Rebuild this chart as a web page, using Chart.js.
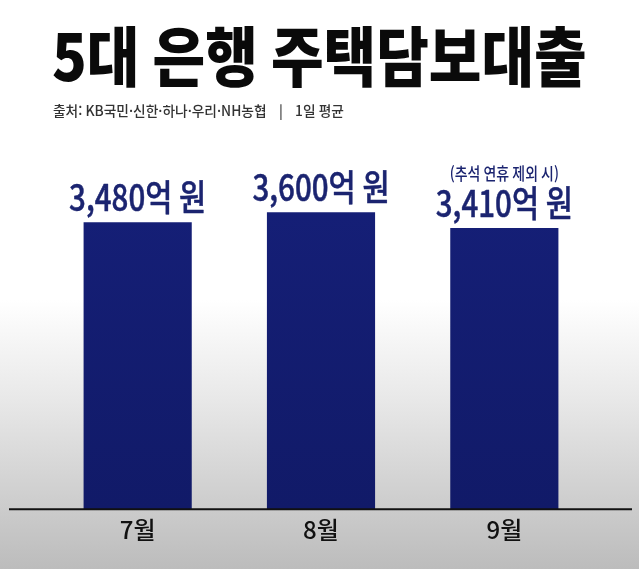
<!DOCTYPE html>
<html lang="ko">
<head>
<meta charset="utf-8">
<script src="https://cdn.jsdelivr.net/npm/chart.js@4/dist/chart.umd.min.js"></script>
<style>
  html, body { margin: 0; padding: 0; }
  body {
    width: 639px; height: 569px; overflow: hidden;
    background: linear-gradient(to bottom, #ffffff 0px, #ffffff 300px, #e8e8e8 400px, #bcbcbc 569px);
  }
  #wrap { position: relative; width: 639px; height: 569px; }
</style>
</head>
<body>
<div id="wrap"><canvas id="c" width="639" height="569"></canvas></div>
<script>
const categories = ['7월', '8월', '9월'];
const values = [3480, 3600, 3410];
const valueLabels = ['3,480억 원', '3,600억 원', '3,410억 원'];
const notes = ['', '', '(추석 연휴 제외 시)'];
const titleText = '5대 은행 주택담보대출';
const subtitleText = '출처: KB국민·신한·하나·우리·NH농협    |    1일 평균';

const FONT = '"Noto Sans CJK KR", "Noto Sans", sans-serif';

function drawScaled(ctx, text, x, y, font, color, align, sx, stroke) {
  ctx.save();
  ctx.font = font;
  ctx.fillStyle = color;
  ctx.textBaseline = 'alphabetic';
  const w = ctx.measureText(text).width * sx;
  let left = x;
  if (align === 'center') left = x - w / 2;
  ctx.translate(left, y);
  ctx.scale(sx, 1);
  ctx.textAlign = 'left';
  ctx.fillText(text, 0, 0);
  if (stroke) {
    ctx.strokeStyle = color;
    ctx.lineWidth = stroke;
    ctx.lineJoin = 'round';
    ctx.strokeText(text, 0, 0);
  }
  ctx.restore();
}

const decor = {
  id: 'decor',
  afterDatasetsDraw(chart) {
    const ctx = chart.ctx;
    const y = chart.scales.y;
    const y0 = y.getPixelForValue(0);
    ctx.save();
    ctx.strokeStyle = '#111';
    ctx.lineWidth = 2;
    ctx.beginPath();
    ctx.moveTo(9, y0);
    ctx.lineTo(632, y0);
    ctx.stroke();
    ctx.restore();
    drawScaled(ctx, titleText, 52, 81, '900 65px ' + FONT, '#0a0a0a', 'left', 0.88);
    drawScaled(ctx, subtitleText, 53, 116, '500 14px ' + FONT, '#333333', 'left', 0.98);
    const meta = chart.getDatasetMeta(0);
    meta.data.forEach((bar, i) => {
      const top = bar.y;
      drawScaled(ctx, valueLabels[i], bar.x, top - 11, '500 36px ' + FONT, '#1b2470', 'center', 0.82, 0.5);
      if (notes[i]) {
        drawScaled(ctx, notes[i], bar.x, top - 48, '500 17px ' + FONT, '#1b2470', 'center', 0.82, 0);
      }
    });
  }
};

new Chart(document.getElementById('c'), {
  type: 'bar',
  data: {
    labels: categories,
    datasets: [{
      data: values,
      backgroundColor(ctx) {
        const ca = ctx.chart.chartArea;
        if (!ca) return '#141e74';
        const g = ctx.chart.ctx.createLinearGradient(0, ca.top, 0, ca.bottom);
        g.addColorStop(0, '#16207a');
        g.addColorStop(1, '#111a68');
        return g;
      },
      borderWidth: 0,
      barPercentage: 0.59,
      categoryPercentage: 1.0
    }]
  },
  options: {
    responsive: false,
    animation: false,
    events: [],
    layout: { padding: { top: 138, left: 46, right: 43, bottom: 19 } },
    plugins: { legend: { display: false }, tooltip: { enabled: false }, title: { display: false } },
    scales: {
      x: {
        grid: { display: false, drawTicks: false },
        border: { display: false },
        ticks: { color: '#111', font: { family: FONT, size: 24, weight: '500' }, padding: 6 }
      },
      y: { display: false, min: 0, max: 4500 }
    }
  },
  plugins: [decor]
});
</script>
</body>
</html>
